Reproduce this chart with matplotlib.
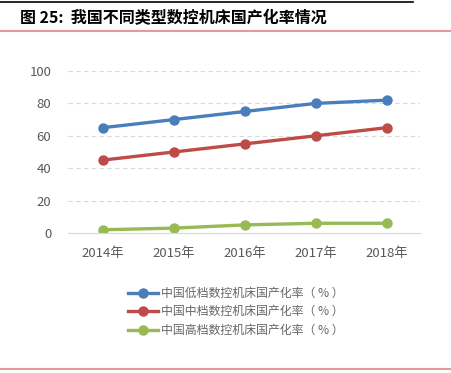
import matplotlib.pyplot as plt
from matplotlib.lines import Line2D

plt.rcParams['font.family'] = ['Noto Sans CJK SC', 'DejaVu Sans']

years = ["2014年", "2015年", "2016年", "2017年", "2018年"]
low_end = [65, 70, 75, 80, 82]   # 低档
mid_end = [45, 50, 55, 60, 65]   # 中档
high_end = [2, 3, 5, 6, 6]       # 高档
labels = ["中国低档数控机床国产化率（ % ）", "中国中档数控机床国产化率（ % ）", "中国高档数控机床国产化率（ % ）"]
colors = ["#4a7ebb", "#be4b48", "#98b954"]

fig = plt.figure(figsize=(4.51, 3.73), dpi=100)
ax = fig.add_axes([68/451, 1-233/373, 352/451, 162/373])

x = range(len(years))
for vals, c, lab in zip([low_end, mid_end, high_end], colors, labels):
    ax.plot(x, vals, color=c, lw=2.4, marker="o", ms=6.5, label=lab)

ax.set_xlim(-0.49, 4.47)
ax.set_ylim(0, 100)
ax.set_yticks([0, 20, 40, 60, 80, 100])
ax.set_xticks(list(x))
ax.set_xticklabels(years)
ax.yaxis.grid(True, color="#d9d9d9", ls=(0, (4, 3)), lw=0.8)
ax.set_axisbelow(True)
for s in ["top", "right", "left"]:
    ax.spines[s].set_visible(False)
ax.spines["bottom"].set_color("#d9d9d9")
ax.tick_params(length=0, colors="#595959", labelsize=9.5, pad=10)
ax.tick_params(axis="y", pad=12)

fig.legend(loc="upper left", bbox_to_anchor=(122/451, 1-281/373), frameon=False,
           fontsize=8.6, labelcolor="#666666", handlelength=2.5, labelspacing=0.45,
           handletextpad=0.3, borderpad=0)

# header and footer rules
fig.add_artist(Line2D([0, 413/451], [1-1.5/373]*2, color="black", lw=1.2))
fig.add_artist(Line2D([0, 1], [1-31/373]*2, color="#e39a9a", lw=1.5))
fig.add_artist(Line2D([0, 1], [1-369/373]*2, color="#e39a9a", lw=1.5))
fig.text(20/451, 1-18/373, "图 25:  我国不同类型数控机床国产化率情况", fontsize=11.5,
         fontweight="bold", va="center", ha="left", color="black")

fig.savefig("out.png", dpi=100)
